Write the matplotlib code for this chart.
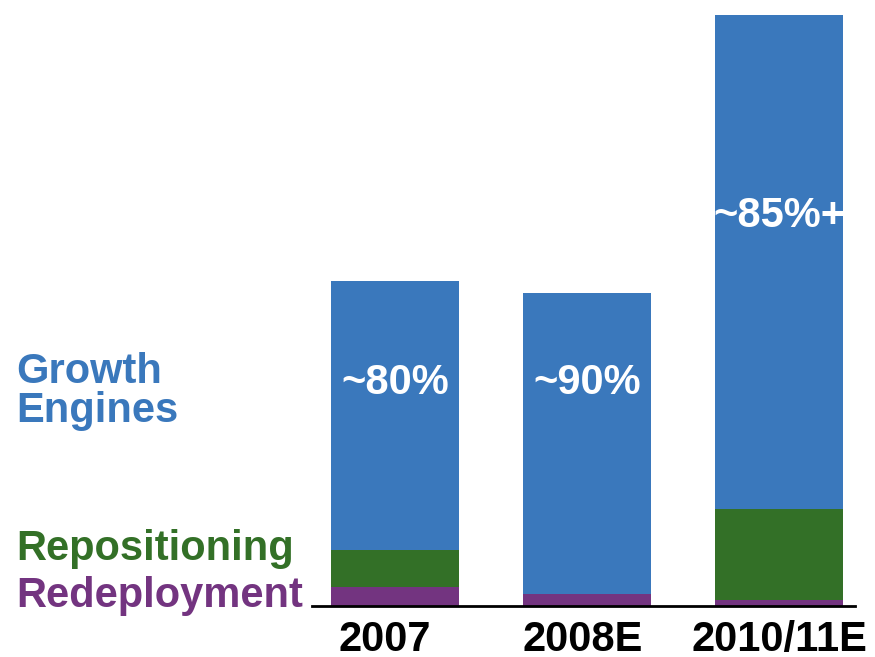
import matplotlib.pyplot as plt
from matplotlib.transforms import ScaledTranslation

years = ['2007', '2008E', '2010/11E']
redeployment = [19, 12, 6]
repositioning = [37, 0, 91]
growth = [269, 301, 494]
share_labels = ['~80%', '~90%', '~85%+']
label_heights = [212, 212, 379]

blue = '#3a78bc'
green = '#337027'
purple = '#733480'

plt.rcParams['font.family'] = ['Liberation Sans', 'DejaVu Sans']

fig = plt.figure(figsize=(8.75, 6.57), dpi=100)
W, H = 875, 657
ax = fig.add_axes([312 / W, (H - 606) / H, (855 - 312) / W, (606 - 15) / H])

x = range(len(years))
w = 0.667
ax.bar(x, redeployment, w, color=purple)
ax.bar(x, repositioning, w, bottom=redeployment, color=green)
base = [a + b for a, b in zip(redeployment, repositioning)]
ax.bar(x, growth, w, bottom=base, color=blue)

for i, (txt, h) in enumerate(zip(share_labels, label_heights)):
    ax.text(i, h, txt, color='white', fontsize=30, fontweight='bold',
            ha='center', va='baseline')

ax.set_xlim(-0.432, 2.396)
ax.set_ylim(0, redeployment[2] + repositioning[2] + growth[2])
for s in ['top', 'left', 'right']:
    ax.spines[s].set_visible(False)
ax.spines['bottom'].set_linewidth(2)
ax.spines['bottom'].set_color('black')
ax.set_yticks([])
ax.set_xticks(list(x))
ax.set_xticklabels(years, fontsize=30, fontweight='bold')
ax.tick_params(axis='x', length=0, pad=10)
# year labels sit a little left of the bar centres in the original
for lbl, dx in zip(ax.get_xticklabels(), [-10, -4, 0]):
    lbl.set_transform(lbl.get_transform() + ScaledTranslation(dx / 100, 0, fig.dpi_scale_trans))

# labels on the left
fig.text(16 / W, 1 - 383 / H, 'Growth', color=blue, fontsize=30,
         fontweight='bold', va='baseline')
fig.text(16 / W, 1 - 422 / H, 'Engines', color=blue, fontsize=30,
         fontweight='bold', va='baseline')
fig.text(16 / W, 1 - 560 / H, 'Repositioning', color=green, fontsize=30,
         fontweight='bold', va='baseline')
fig.text(16 / W, 1 - 607 / H, 'Redeployment', color=purple, fontsize=30,
         fontweight='bold', va='baseline')

fig.savefig('out.png', dpi=100)
